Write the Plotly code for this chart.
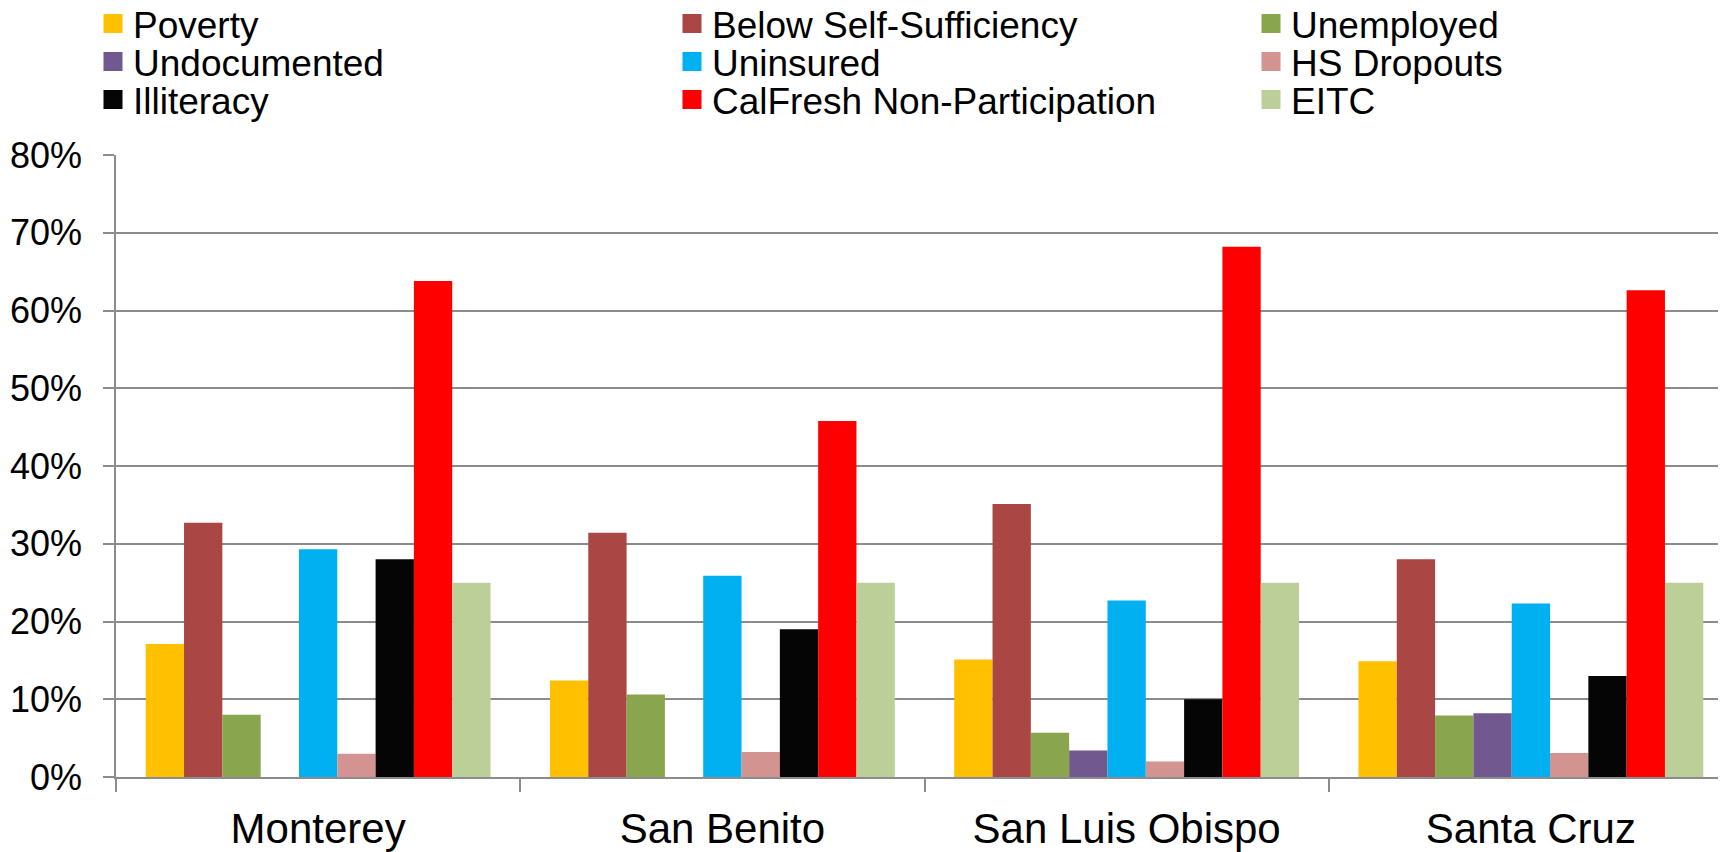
import plotly.graph_objects as go

counties = ["Monterey", "San Benito", "San Luis Obispo", "Santa Cruz"]

poverty = [17.1, 12.4, 15.1, 14.9]
below_self_sufficiency = [32.7, 31.4, 35.1, 28.0]
unemployed = [8.0, 10.6, 5.7, 7.9]
undocumented = [None, None, 3.4, 8.2]
uninsured = [29.3, 25.9, 22.7, 22.3]
hs_dropouts = [3.0, 3.2, 2.0, 3.1]
illiteracy = [28.0, 19.0, 10.0, 13.0]
calfresh_non_participation = [63.8, 45.8, 68.2, 62.6]
eitc = [25.0, 25.0, 25.0, 25.0]

y_ticks = [0, 10, 20, 30, 40, 50, 60, 70, 80]
y_tick_labels = ["0%", "10%", "20%", "30%", "40%", "50%", "60%", "70%", "80%"]

series = [
    ("Poverty", poverty, "#FFC000"),
    ("Below Self-Sufficiency", below_self_sufficiency, "#AA4643"),
    ("Unemployed", unemployed, "#89A54E"),
    ("Undocumented", undocumented, "#71588F"),
    ("Uninsured", uninsured, "#00B0F0"),
    ("HS Dropouts", hs_dropouts, "#D39391"),
    ("Illiteracy", illiteracy, "#050505"),
    ("CalFresh Non-Participation", calfresh_non_participation, "#FF0000"),
    ("EITC", eitc, "#BCCF98"),
]

FONT = "Liberation Sans, Arial, sans-serif"
GRID = "#8C8C8C"
W, H = 1726, 852

fig = go.Figure()
for name, vals, color in series:
    fig.add_trace(go.Bar(
        x=counties, y=vals, name=name, marker=dict(color=color, line=dict(width=0)),
        showlegend=False,
    ))

col_x = [85, 664, 1243]           # legend box left (px, figure coords)
row_y = [16, 54, 92]              # row centre (px from figure top)

legends = {}
for i, (name, vals, color) in enumerate(series):
    key = "legend" if i == 0 else f"legend{i + 1}"
    fig.add_trace(go.Scatter(
        x=[None], y=[None], mode="markers", name=name, legend=key,
        marker=dict(symbol="square", size=16, color=color, line=dict(width=3, color=color)),
        showlegend=True, hoverinfo="skip",
    ))
    r, c = divmod(i, 3)
    legends[key] = dict(
        xref="container", yref="container",
        x=col_x[c] / W, y=1 - row_y[r] / H,
        xanchor="left", yanchor="middle",
        font=dict(family=FONT, size=37, color="#000000"),
        bgcolor="rgba(0,0,0,0)", borderwidth=0, itemwidth=30,
    )

fig.update_layout(
    width=W, height=H,
    margin=dict(l=108, r=1, t=147, b=83, pad=0, autoexpand=False),
    paper_bgcolor="white", plot_bgcolor="white",
    barmode="group", bargap=0.147, bargroupgap=0,
    font=dict(family=FONT, color="#000000"),
    xaxis=dict(
        type="category", range=[-0.5, 3.5],
        showgrid=False, showline=True, linecolor=GRID, linewidth=2,
        ticks="outside", tickson="boundaries", ticklen=13, tickwidth=1.5, tickcolor=GRID,
        tickfont=dict(family=FONT, size=42, color="#000000"),
        ticklabelstandoff=14,
    ),
    yaxis=dict(
        range=[0, 80], tickmode="array", tickvals=y_ticks, ticktext=y_tick_labels,
        showgrid=True, gridcolor=GRID, gridwidth=2,
        showline=True, linecolor=GRID, linewidth=1.5,
        ticks="outside", ticklen=11, tickwidth=2, tickcolor=GRID,
        tickfont=dict(family=FONT, size=36, color="#000000"),
        ticklabelstandoff=14, zeroline=False,
    ),
    **legends,
)

fig.write_html("out.html")
